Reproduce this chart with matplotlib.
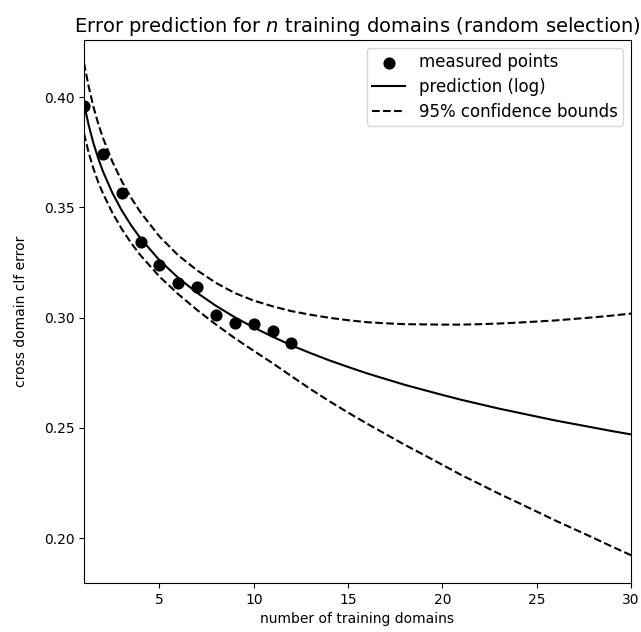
import matplotlib
matplotlib.use('Agg')
import matplotlib.pyplot as plt


# measured error for 1..12 training domains
n_measured = [1, 2, 3, 4, 5, 6, 7, 8, 9, 10, 11, 12]
err_measured = [0.3960, 0.3740, 0.3566, 0.3344, 0.3238, 0.3158,
                0.3137, 0.3011, 0.2976, 0.2971, 0.2940, 0.2883]

# prediction curve and bounds
n_curve = [1, 1.25, 1.5, 1.75, 2, 2.5, 3, 3.5, 4, 5, 6, 7, 8, 9, 10,
           11, 12, 13, 14, 15, 16, 17, 18, 19, 20, 21, 22, 23, 24, 25,
           26, 27, 28, 29, 30]
pred = [0.3970, 0.3872, 0.3791, 0.3723, 0.3664, 0.3566, 0.3486, 0.3418,
        0.3359, 0.3260, 0.3180, 0.3112, 0.3053, 0.3001, 0.2955, 0.2913,
        0.2874, 0.2839, 0.2806, 0.2776, 0.2747, 0.2721, 0.2695, 0.2672,
        0.2649, 0.2627, 0.2607, 0.2587, 0.2569, 0.2551, 0.2533, 0.2517,
        0.2501, 0.2485, 0.2470]
upper = [0.4155, 0.4047, 0.3956, 0.3881, 0.3816, 0.3708, 0.3619, 0.3543,
         0.3477, 0.3368, 0.3282, 0.3214, 0.3157, 0.3111, 0.3077, 0.3051,
         0.3029, 0.3013, 0.2999, 0.2988, 0.2979, 0.2974, 0.2970, 0.2969,
         0.2968, 0.2968, 0.2970, 0.2973, 0.2977, 0.2982, 0.2987, 0.2994,
         0.3001, 0.3009, 0.3018]
lower = [0.3835, 0.3747, 0.3676, 0.3615, 0.3564, 0.3476, 0.3402, 0.3338,
         0.3282, 0.3186, 0.3106, 0.3034, 0.2968, 0.2906, 0.2849, 0.2793,
         0.2734, 0.2676, 0.2621, 0.2569, 0.2519, 0.2471, 0.2423, 0.2378,
         0.2332, 0.2286, 0.2244, 0.2201, 0.2161, 0.2120, 0.2079, 0.2040,
         0.2001, 0.1961, 0.1922]


def main():
    fig = plt.figure(figsize=(6.41, 6.32), dpi=100)
    ax = fig.add_axes([84 / 641, 1 - 583 / 632, 547 / 641, 543 / 632])

    ax.scatter(n_measured, err_measured, color='k', s=60, zorder=3,
               label='measured points')
    ax.plot(n_curve, pred, 'k-', label='prediction (log)')
    ax.plot(n_curve, upper, 'k--', label='95% confidence bounds')
    ax.plot(n_curve, lower, 'k--')

    ax.set_xlim(1, 30)
    ax.set_ylim(0.1796, 0.4259)
    ax.set_xticks([5, 10, 15, 20, 25, 30])
    ax.set_yticks([0.20, 0.25, 0.30, 0.35, 0.40])
    ax.set_xlabel('number of training domains')
    ax.set_ylabel('cross domain clf error', labelpad=11)
    ax.set_title('Error prediction for $n$ training domains (random selection)',
                 fontsize=14)
    ax.legend(loc='upper right', fontsize=12, labelspacing=0.4,
              borderpad=0.3)

    fig.savefig('out.png', dpi=100)


if __name__ == '__main__':
    main()
